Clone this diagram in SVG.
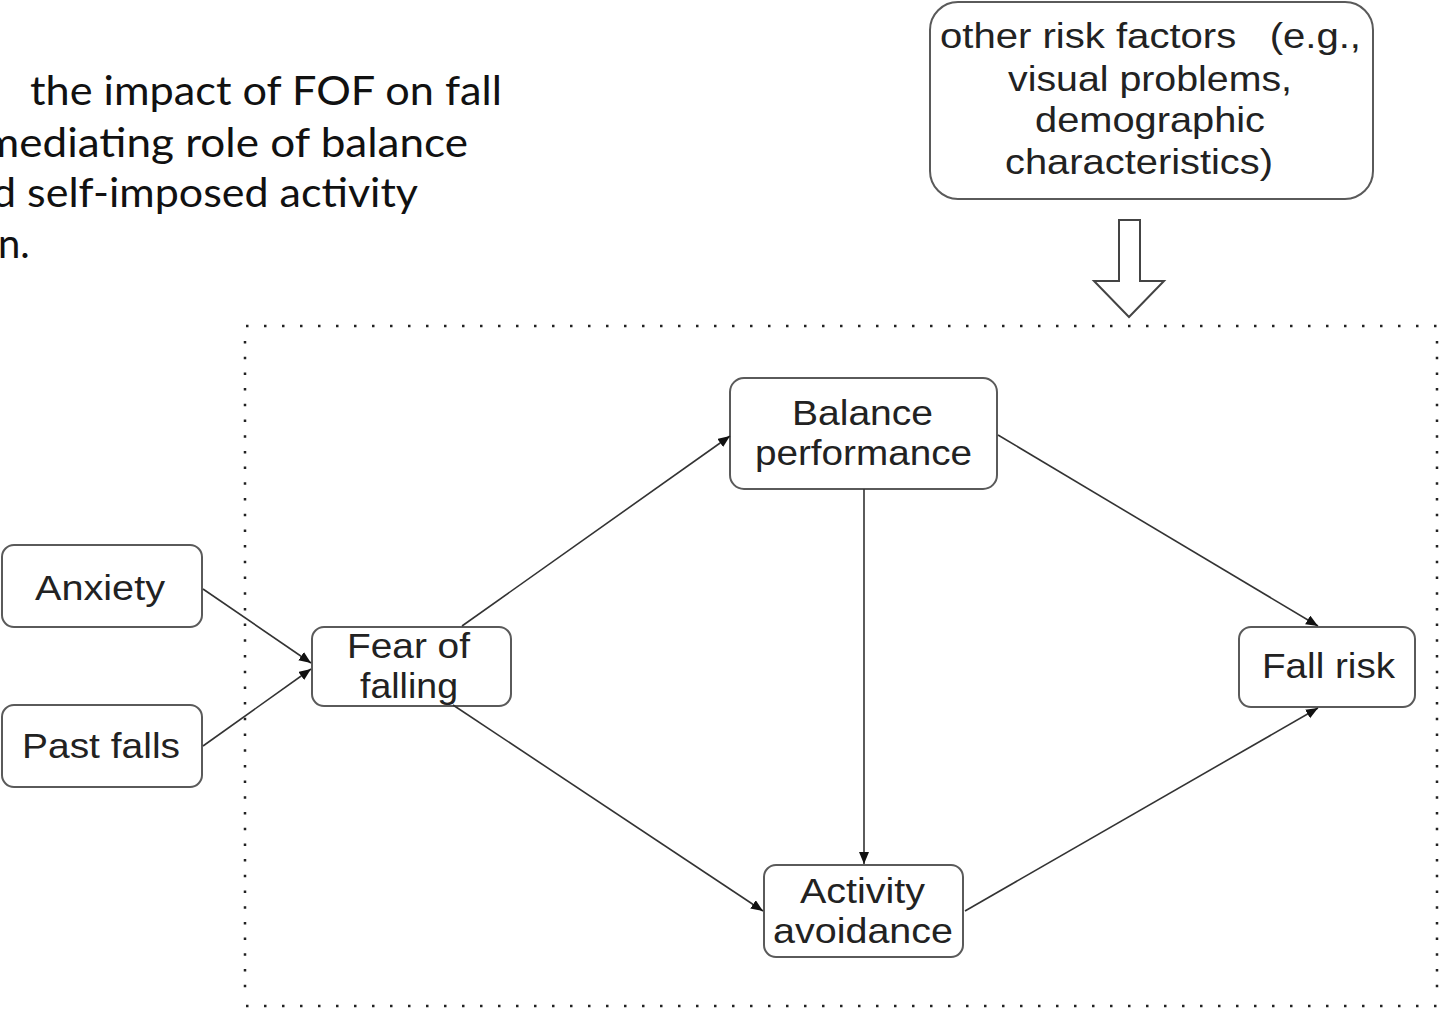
<svg xmlns="http://www.w3.org/2000/svg" width="1440" height="1009" viewBox="0 0 1440 1009">
<defs>
<style>
.title{font-family:Lato,"Open Sans","Liberation Sans",sans-serif;font-size:40px;fill:#111;}
.node rect{fill:#fff;stroke:#5a5a5a;stroke-width:2;}
.node text{font-family:"Liberation Sans",Arial,sans-serif;font-size:35px;fill:#222;}
.conn line{stroke:#333;stroke-width:1.6;marker-end:url(#ah);}
.dots{stroke:#222;stroke-width:2.5;fill:none;}
</style>
<marker id="ah" markerUnits="userSpaceOnUse" markerWidth="13" markerHeight="11" refX="12" refY="5" orient="auto">
<path d="M0,0 L12,5 L0,10 z" fill="#111"/>
</marker>
</defs>
<rect width="1440" height="1009" fill="#fff"/>

<g id="title">
<text class="title" x="30" y="105" textLength="472" lengthAdjust="spacingAndGlyphs">the impact of FOF on fall</text>
<text class="title" x="-17" y="157" textLength="485" lengthAdjust="spacingAndGlyphs">mediating role of balance</text>
<text class="title" x="-8" y="207" textLength="426" lengthAdjust="spacingAndGlyphs">d self-imposed activity</text>
<text class="title" x="-2" y="258">n.</text>
</g>

<g id="frame">
<line class="dots" x1="246" y1="326" x2="1437" y2="326" stroke-dasharray="2.5 15.5"/>
<line class="dots" x1="246" y1="1006" x2="1437" y2="1006" stroke-dasharray="2.5 15.5"/>
<line class="dots" x1="245" y1="341" x2="245" y2="1000" stroke-dasharray="2.5 13.2"/>
<line class="dots" x1="1437" y1="341" x2="1437" y2="1000" stroke-dasharray="2.5 13.2"/>
</g>

<g id="other-risk-factors" class="node">
<rect x="930" y="2" width="443" height="197" rx="28"/>
<text x="940" y="48" textLength="421" lengthAdjust="spacingAndGlyphs" xml:space="preserve">other risk factors   (e.g.,</text>
<text x="1008" y="91" textLength="284" lengthAdjust="spacingAndGlyphs">visual problems,</text>
<text x="1035" y="132" textLength="230" lengthAdjust="spacingAndGlyphs">demographic</text>
<text x="1005" y="174" textLength="268" lengthAdjust="spacingAndGlyphs">characteristics)</text>
</g>

<g id="big-arrow">
<polygon points="1119,220 1140,220 1140,281 1164,281 1129,317 1094,281 1119,281" fill="#fff" stroke="#444" stroke-width="2"/>
</g>

<g id="anxiety" class="node">
<rect x="2" y="545" width="200" height="82" rx="12"/>
<text x="35" y="600" textLength="130" lengthAdjust="spacingAndGlyphs">Anxiety</text>
</g>
<g id="past-falls" class="node">
<rect x="2" y="705" width="200" height="82" rx="12"/>
<text x="22" y="758" textLength="158" lengthAdjust="spacingAndGlyphs">Past falls</text>
</g>
<g id="fear-of-falling" class="node">
<rect x="312" y="627" width="199" height="79" rx="12"/>
<text x="347" y="658" textLength="123" lengthAdjust="spacingAndGlyphs">Fear of</text>
<text x="360" y="698" textLength="98" lengthAdjust="spacingAndGlyphs">falling</text>
</g>
<g id="balance-performance" class="node">
<rect x="730" y="378" width="267" height="111" rx="14"/>
<text x="792" y="425" textLength="141" lengthAdjust="spacingAndGlyphs">Balance</text>
<text x="755" y="465" textLength="217" lengthAdjust="spacingAndGlyphs">performance</text>
</g>
<g id="activity-avoidance" class="node">
<rect x="764" y="865" width="199" height="92" rx="12"/>
<text x="800" y="903" textLength="125" lengthAdjust="spacingAndGlyphs">Activity</text>
<text x="773" y="943" textLength="180" lengthAdjust="spacingAndGlyphs">avoidance</text>
</g>
<g id="fall-risk" class="node">
<rect x="1239" y="627" width="176" height="80" rx="12"/>
<text x="1262" y="678" textLength="133" lengthAdjust="spacingAndGlyphs">Fall risk</text>
</g>

<g id="connectors" class="conn">
<line x1="203" y1="589" x2="311" y2="663"/>
<line x1="203" y1="746" x2="311" y2="669"/>
<line x1="462" y1="626" x2="730" y2="436"/>
<line x1="453" y1="705" x2="763" y2="911"/>
<line x1="864" y1="489" x2="864" y2="864"/>
<line x1="998" y1="435" x2="1318" y2="626"/>
<line x1="965" y1="911" x2="1318" y2="708"/>
</g>
</svg>
